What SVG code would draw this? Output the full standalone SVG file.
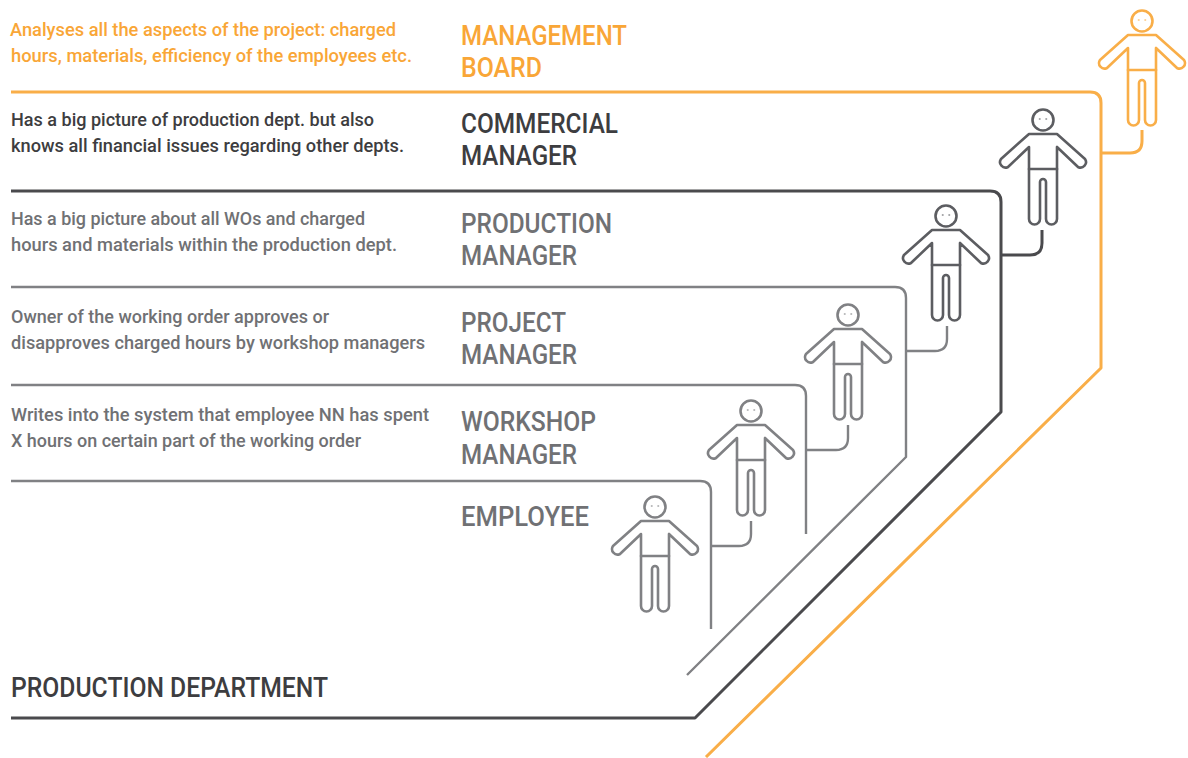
<svg xmlns="http://www.w3.org/2000/svg" xmlns:xlink="http://www.w3.org/1999/xlink" width="1188" height="758" viewBox="0 0 1188 758">
<style>
text{font-family:"Roboto","Liberation Sans",sans-serif}
.h{font-size:27px;font-weight:500}
.s{font-size:17.5px;font-weight:500}
.o{fill:#f9a637}.d{fill:#3d3d40}.g{fill:#707174}
.l{fill:none;stroke-linejoin:round}
.lo{stroke:#f9ae48;stroke-width:3}
.ld{stroke:#4a4a4d;stroke-width:3}
.lg{stroke:#808184;stroke-width:2.4}
.po{stroke:#f9ae48}.pd{stroke:#5c5d61}.pg{stroke:#808184}
.p{fill:none;stroke-width:2.6;stroke-linejoin:round;stroke-linecap:round}
.e{stroke-width:1.6;opacity:.75}
</style>
<defs>
<g id="person">
<circle cx="0" cy="0" r="10.5"/>
<path d="M-14,14H14L42,39A5.5,5.5 0 0 1 35,47L14,27V99A5.5,5.5 0 0 1 3,99V62A3,3 0 0 0 -3,62V99A5.5,5.5 0 0 1 -14,99V27L-35,47A5.5,5.5 0 0 1 -42,39Z"/>
<path d="M-14,49H14"/>
<path class="e" d="M-3.5,-1H-3M3,-1H3.5"/>
</g>
</defs>
<g id="connectors">
<path class="l lo" d="M11,92H1090Q1101,92 1101,103V368L706,757"/>
<path class="l lo" d="M1101,153H1130Q1142,153 1142,141V130"/>
<path class="l ld" d="M11,191H990Q1001,191 1001,202V412L695,718H11"/>
<path class="l ld" d="M1001,255H1030Q1042,255 1042,243V230"/>
<path class="l lg" d="M11,287H895Q906,287 906,298V457L687,675"/>
<path class="l lg" d="M906,351H935Q947,351 947,339V326"/>
<path class="l lg" d="M11,385H795Q806,385 806,396V534"/>
<path class="l lg" d="M806,450H836Q848,450 848,438V425"/>
<path class="l lg" d="M11,481H700Q711,481 711,492V629"/>
<path class="l lg" d="M711,546H739Q751,546 751,534V521"/>
</g>
<g id="management-board">
<use xlink:href="#person" href="#person" x="1142" y="21" class="p po"/>
<text class="s o" x="10" y="36" textLength="386" lengthAdjust="spacingAndGlyphs">Analyses all the aspects of the project: charged</text>
<text class="s o" x="11" y="62" textLength="401" lengthAdjust="spacingAndGlyphs">hours, materials, efficiency of the employees etc.</text>
<text class="h o" x="461" y="45" textLength="166" lengthAdjust="spacingAndGlyphs">MANAGEMENT</text>
<text class="h o" x="461" y="77" textLength="81" lengthAdjust="spacingAndGlyphs">BOARD</text>
</g>
<g id="commercial-manager">
<use xlink:href="#person" href="#person" x="1043" y="120" class="p pd"/>
<text class="s d" x="11" y="126" textLength="363" lengthAdjust="spacingAndGlyphs">Has a big picture of production dept. but also</text>
<text class="s d" x="11" y="152" textLength="393" lengthAdjust="spacingAndGlyphs">knows all financial issues regarding other depts.</text>
<text class="h d" x="461" y="133" textLength="157" lengthAdjust="spacingAndGlyphs">COMMERCIAL</text>
<text class="h d" x="461" y="165" textLength="116" lengthAdjust="spacingAndGlyphs">MANAGER</text>
</g>
<g id="production-manager">
<use xlink:href="#person" href="#person" x="946" y="216" class="p pd"/>
<text class="s g" x="11" y="225" textLength="354" lengthAdjust="spacingAndGlyphs">Has a big picture about all WOs and charged</text>
<text class="s g" x="11" y="251" textLength="386" lengthAdjust="spacingAndGlyphs">hours and materials within the production dept.</text>
<text class="h g" x="461" y="233" textLength="151" lengthAdjust="spacingAndGlyphs">PRODUCTION</text>
<text class="h g" x="461" y="265" textLength="116" lengthAdjust="spacingAndGlyphs">MANAGER</text>
</g>
<g id="project-manager">
<use xlink:href="#person" href="#person" x="848" y="315" class="p pg"/>
<text class="s g" x="11" y="323" textLength="318" lengthAdjust="spacingAndGlyphs">Owner of the working order approves or</text>
<text class="s g" x="11" y="349" textLength="414" lengthAdjust="spacingAndGlyphs">disapproves charged hours by workshop managers</text>
<text class="h g" x="461" y="332" textLength="105" lengthAdjust="spacingAndGlyphs">PROJECT</text>
<text class="h g" x="461" y="364" textLength="116" lengthAdjust="spacingAndGlyphs">MANAGER</text>
</g>
<g id="workshop-manager">
<use xlink:href="#person" href="#person" x="751" y="411" class="p pg"/>
<text class="s g" x="11" y="421" textLength="418" lengthAdjust="spacingAndGlyphs">Writes into the system that employee NN has spent</text>
<text class="s g" x="11" y="447" textLength="350" lengthAdjust="spacingAndGlyphs">X hours on certain part of the working order</text>
<text class="h g" x="461" y="431" textLength="135" lengthAdjust="spacingAndGlyphs">WORKSHOP</text>
<text class="h g" x="461" y="464" textLength="116" lengthAdjust="spacingAndGlyphs">MANAGER</text>
</g>
<g id="employee">
<use xlink:href="#person" href="#person" x="655" y="507" class="p pg"/>
<text class="h g" x="461" y="526" textLength="128" lengthAdjust="spacingAndGlyphs">EMPLOYEE</text>
</g>
<g id="production-department">
<text class="h d" x="11" y="697" textLength="317" lengthAdjust="spacingAndGlyphs">PRODUCTION DEPARTMENT</text>
</g>
</svg>
